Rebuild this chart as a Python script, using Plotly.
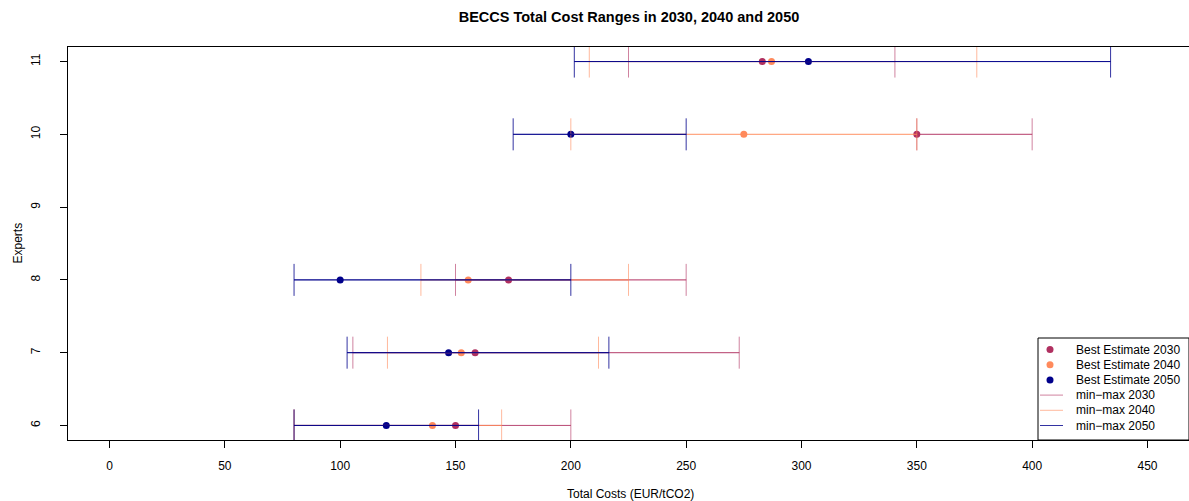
import plotly.graph_objects as go

# Expert ids shown on the y axis (expert 9 gave no BECCS estimate)
experts = [6, 7, 8, 10, 11]

# Total costs in EUR/tCO2 per expert: minimum, best estimate, maximum
min_2030 = [80, 105.5, 150, 350, 225]
best_2030 = [150, 158.5, 173, 350, 283]
max_2030 = [200, 273, 250, 400, 340.5]

min_2040 = [80, 120.5, 135, 200, 208]
best_2040 = [140, 152.5, 155.5, 275, 287]
max_2040 = [170, 212, 225, 350, 376]

min_2050 = [80, 103, 80, 175, 201.5]
best_2050 = [120, 147, 100, 200, 303]
max_2050 = [160, 216.5, 200, 250, 434]

x_ticks = [0, 50, 100, 150, 200, 250, 300, 350, 400, 450]
y_ticks = [6, 7, 8, 9, 10, 11]

legend_labels = ["Best Estimate 2030", "Best Estimate 2040", "Best Estimate 2050",
                 "min\u2212max 2030", "min\u2212max 2040", "min\u2212max 2050"]

COL_2030 = (176, 48, 96)
COL_2040 = (255, 138, 92)
COL_2050 = (0, 0, 139)
LINE_ALPHA = {2030: 0.6, 2040: 0.6, 2050: 0.8}

FONT = "Liberation Sans, Arial, Helvetica, sans-serif"


def rgb(c):
    return "rgb(%d,%d,%d)" % c


def rgba(c, a):
    return "rgba(%d,%d,%d,%.3f)" % (c[0], c[1], c[2], a)


series = [
    (2030, COL_2030, min_2030, best_2030, max_2030),
    (2040, COL_2040, min_2040, best_2040, max_2040),
    (2050, COL_2050, min_2050, best_2050, max_2050),
]

fig = go.Figure()

# best-estimate points first, ranges are drawn over them
for year, col, lo, best, hi in series:
    fig.add_trace(go.Scatter(
        x=best, y=experts, mode="markers",
        marker=dict(color=rgb(col), size=7, line=dict(width=0)),
        showlegend=False, hoverinfo="skip",
    ))

# min-max ranges: capped bars plus the shaft drawn once more
for year, col, lo, best, hi in series:
    a = LINE_ALPHA[year]
    fig.add_trace(go.Scatter(
        x=best, y=experts, mode="markers",
        marker=dict(size=1, opacity=0),
        error_x=dict(type="data", symmetric=False,
                     array=[h - b for h, b in zip(hi, best)],
                     arrayminus=[b - l for b, l in zip(best, lo)],
                     width=16, thickness=1, color=rgba(col, a)),
        showlegend=False, hoverinfo="skip",
    ))
    xs, ys = [], []
    for l, h, e in zip(lo, hi, experts):
        xs += [l, h, None]
        ys += [e, e, None]
    fig.add_trace(go.Scatter(
        x=xs, y=ys, mode="lines",
        line=dict(color=rgba(col, a), width=1),
        showlegend=False, hoverinfo="skip",
    ))

# figure geometry in pixels
W, H = 1189, 501
ML, MR, MT, MB = 68, 0, 47, 61
PW, PH = W - ML - MR, H - MT - MB


def px_x(p):
    return (p - ML) / PW


def px_y(p):
    return (H - MB - p) / PH


shapes = []
annotations = []

# legend box in the bottom-right corner
shapes.append(dict(type="rect", xref="paper", yref="paper",
                   x0=px_x(1038), x1=1.0, y0=0.0, y1=px_y(338),
                   fillcolor="white", line=dict(color="black", width=1),
                   layer="above"))
row_y = [349.5, 364.7, 379.9, 395.1, 410.3, 425.5]
colors = [COL_2030, COL_2040, COL_2050]
for i, (label, yy) in enumerate(zip(legend_labels, row_y)):
    if i < 3:
        r = 3.5
        shapes.append(dict(type="circle", xref="paper", yref="paper",
                           x0=px_x(1050 - r), x1=px_x(1050 + r),
                           y0=px_y(yy + r), y1=px_y(yy - r),
                           fillcolor=rgb(colors[i]), line=dict(width=0),
                           layer="above"))
    else:
        year = [2030, 2040, 2050][i - 3]
        shapes.append(dict(type="line", xref="paper", yref="paper",
                           x0=px_x(1040), x1=px_x(1063), y0=px_y(yy), y1=px_y(yy),
                           line=dict(color=rgba(colors[i - 3], LINE_ALPHA[year]), width=1),
                           layer="above"))
    annotations.append(dict(xref="paper", yref="paper", x=px_x(1074), y=px_y(yy),
                            xanchor="left", yanchor="middle", showarrow=False,
                            text=label, font=dict(family=FONT, size=12, color="black")))

# axis titles
annotations.append(dict(xref="paper", yref="paper", x=px_x(630), y=px_y(494),
                        xanchor="center", yanchor="middle", showarrow=False,
                        text="Total Costs (EUR/tCO2)",
                        font=dict(family=FONT, size=12, color="black")))
annotations.append(dict(xref="paper", yref="paper", x=px_x(17), y=0.5,
                        xanchor="center", yanchor="middle", showarrow=False,
                        textangle=-90, text="Experts",
                        font=dict(family=FONT, size=12, color="black")))

fig.update_layout(
    width=W, height=H,
    margin=dict(l=ML, r=MR, t=MT, b=MB, pad=0),
    paper_bgcolor="white", plot_bgcolor="white",
    showlegend=False,
    title=dict(text="<b>BECCS Total Cost Ranges in 2030, 2040 and 2050</b>",
               x=629 / W, xanchor="center",
               y=1 - 17 / H, yanchor="middle",
               font=dict(family=FONT, size=14.5, color="black")),
    xaxis=dict(range=[-18, 468], tickvals=x_ticks,
               ticktext=[str(v) for v in x_ticks],
               ticks="outside", ticklen=7, tickwidth=1, tickcolor="black",
               showline=True, mirror=True, linecolor="black", linewidth=1,
               showgrid=False, zeroline=False, ticklabelstandoff=8,
               tickfont=dict(family=FONT, size=12, color="black")),
    yaxis=dict(range=[5.8, 11.2], tickvals=y_ticks,
               ticktext=[str(v) for v in y_ticks], tickangle=-90,
               ticks="outside", ticklen=7, tickwidth=1, tickcolor="black",
               showline=True, mirror=True, linecolor="black", linewidth=1,
               showgrid=False, zeroline=False, ticklabelstandoff=15,
               tickfont=dict(family=FONT, size=12, color="black")),
    shapes=shapes,
    annotations=annotations,
)

fig.write_html("out.html")
